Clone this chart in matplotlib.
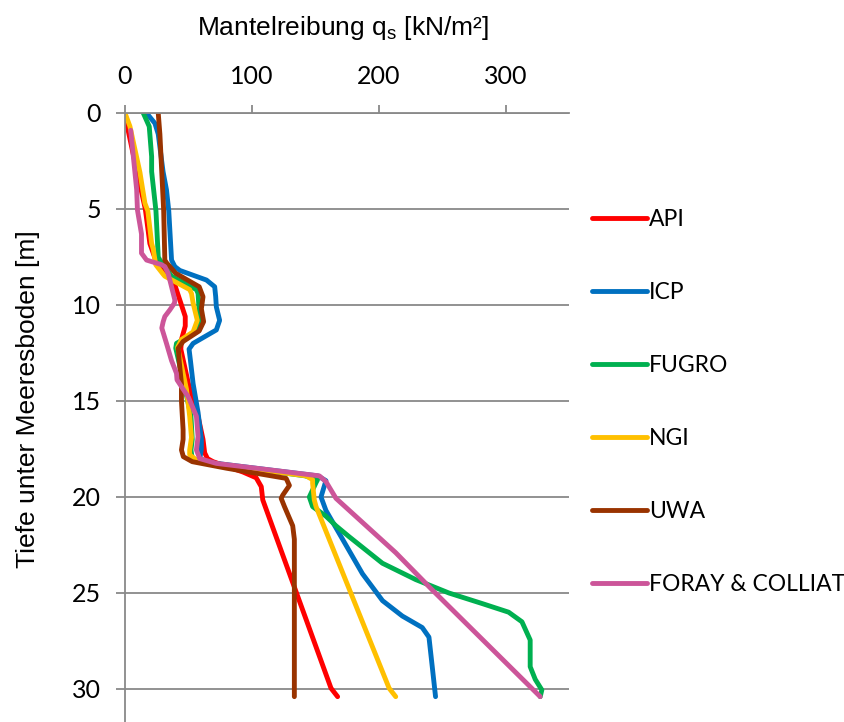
import matplotlib
matplotlib.use("Agg")
from matplotlib import pyplot as plt

plt.rcParams['mathtext.fontset'] = 'custom'
plt.rcParams['mathtext.rm'] = 'Liberation Sans'

# depth [m] and skin friction [kN/m2] for each method
api_depth = [0, 0.6, 2.0, 3.5, 5.0, 6.8, 7.8, 8.7, 9.74, 10.6, 11.1, 11.8, 12.3, 14.1, 15.8, 17.0,
             17.7, 18.0, 18.16, 18.7, 19.0, 19.46, 20.15, 29.96, 30.4]
api_q = [0, 1.5, 6, 11, 16, 19.6, 24.9, 38, 43.2, 47.5, 47.5, 44.5, 44, 50, 57.6, 61.5,
         62.8, 65, 69.4, 93, 103.4, 107.4, 108.6, 162.4, 167.6]

icp_depth = [0, 0.54, 1.1, 3.05, 4.0, 5.1, 7.66, 8.0, 8.2, 8.7, 9.05, 9.57, 10.1, 10.8, 11.3, 12.0,
             12.3, 12.9, 14.1, 15.6, 17.0, 17.5, 18.0, 18.2, 18.9, 19.15, 20.0, 20.7, 22.2, 24.0,
             25.4, 26.2, 26.8, 27.3, 28.84, 30.4]
icp_q = [17, 23.6, 26.2, 30, 32.7, 34.5, 36.7, 39.3, 43.2, 64.2, 70.7, 71.5, 72, 74.6, 72, 53.7,
         50.5, 51.6, 53.7, 57.6, 60.2, 60.2, 59, 66, 152, 158.4, 154.5, 158.4, 171.5, 187.2,
         203, 218.6, 234.3, 239.6, 242.2, 244.8]

fugro_depth = [0, 0.7, 2.27, 3.05, 5.1, 7.5, 7.66, 8.5, 9.2, 9.4, 10.26, 10.95, 11.4, 12.0, 12.25,
               14.1, 15.8, 17.0, 17.55, 18.0, 18.16, 18.9, 19.1, 19.25, 20.0, 20.5, 21.0, 21.5,
               22.07, 23.45, 24.3, 25.0, 25.55, 26.0, 26.5, 27.45, 28.84, 29.5, 30.05, 30.4]
fugro_q = [14.4, 19.1, 21, 21, 24.4, 26.2, 27.5, 36.7, 56.3, 57.6, 58.4, 58.9, 56.3, 40.6, 40,
           46.5, 52, 53, 52, 53, 60, 142, 151.8, 150.6, 145.3, 147.9, 158.4, 166.3,
           176.7, 202.9, 229.1, 255.3, 281.5, 302.4, 312.9, 319.4, 319.4, 323.4, 328.6, 327.3]

ngi_depth = [0, 0.7, 3.1, 3.6, 4.7, 5.1, 6.8, 7.1, 7.9, 8.4, 8.5, 9.2, 9.4, 9.9, 10.8, 11.4, 11.8,
             12.2, 14.4, 15.8, 16.9, 17.55, 17.8, 18.16, 18.9, 19.1, 19.3, 20.15, 20.5, 29.96, 30.4]
ngi_q = [0, 3.9, 11.8, 13, 15.7, 18, 21, 22.3, 24.2, 30.1, 31.4, 51, 52.4, 53.7, 57, 53.7, 44.5,
         41.5, 48.5, 51, 52.4, 51, 51, 58, 142.7, 147.9, 147.9, 149.2, 150.6, 208.2, 213.4]

uwa_depth = [0, 1.1, 5.1, 7.66, 7.8, 8.1, 8.35, 9.05, 9.57, 10.2, 10.87, 11.35, 11.9, 12.25, 12.9,
             14.1, 15.0, 16.5, 17.0, 17.55, 17.9, 18.16, 18.5, 19.03, 19.4, 19.9, 20.07, 20.5,
             21.5, 22.2, 30.4]
uwa_q = [26.2, 27.5, 30.5, 31.4, 32.7, 36.7, 40, 58.5, 61.5, 60.2, 62, 58.5, 45.8, 42, 42.7,
         44.5, 44.5, 45.8, 45.8, 44.5, 46, 53, 79.9, 127, 129.6, 124.4, 123.1, 125.7,
         132.2, 133.5, 133.5]

foray_depth = [0.9, 4.0, 5.05, 6.3, 7.3, 7.66, 7.9, 8.0, 8.35, 8.87, 9.74, 9.9, 10.26, 10.6, 10.87,
               11.2, 12.0, 12.9, 13.56, 13.9, 14.8, 15.8, 16.86, 17.55, 18.0, 18.25, 18.9, 19.2,
               20.07, 22.9, 24.84, 30.4]
foray_q = [4.5, 9.2, 9.8, 13, 13, 17, 28.8, 31.4, 34, 36, 39.3, 39, 35.3, 31.4, 30.1,
           29, 32.7, 36.7, 40.6, 41, 50, 56.3, 57.6, 56.3, 58.9, 72, 153.2, 158.4,
           166.3, 213.4, 242.2, 327.3]

names = ["API", "ICP", "FUGRO", "NGI", "UWA", "FORAY & COLLIAT"]
colors = ["#FF0000", "#0070C0", "#00B050", "#FFC000", "#993300", "#CC5599"]
depths = [api_depth, icp_depth, fugro_depth, ngi_depth, uwa_depth, foray_depth]
values = [api_q, icp_q, fugro_q, ngi_q, uwa_q, foray_q]

tick_font = "Lato"
grey = "#898989"

fig = plt.figure(figsize=(8.44, 7.22), dpi=100)
ax = fig.add_axes([125 / 844, 0.0, 444 / 844, 609 / 722])

for name, c, d, q in zip(names, colors, depths, values):
    ax.plot(q, d, color=c, lw=3.5, label=name, solid_joinstyle='round', solid_capstyle='round')

ax.set_xlim(0, 350)
ax.set_ylim(31.72, 0)
ax.set_xticks([0, 100, 200, 300])
ax.set_yticks([0, 5, 10, 15, 20, 25, 30])
ax.xaxis.tick_top()
ax.tick_params(axis='x', length=6, width=1.3, color=grey, pad=12, labelsize=18)
ax.tick_params(axis='y', length=6.5, width=1.3, color=grey, pad=11, labelsize=18)
for lab in ax.get_xticklabels() + ax.get_yticklabels():
    lab.set_fontfamily(tick_font)

ax.grid(axis='y', color=grey, lw=1.3)
ax.set_axisbelow(True)
for side in ['right', 'bottom']:
    ax.spines[side].set_visible(False)
for side in ['left', 'top']:
    ax.spines[side].set_color(grey)
    ax.spines[side].set_linewidth(1.3)

ax.xaxis.set_label_position('top')
ax.set_xlabel(r"Mantelreibung q$_\mathregular{s}$ [kN/m²]", fontsize=19, family="Liberation Sans")
ax.xaxis.set_label_coords(0.49, 1 + 85 / 609)
ax.xaxis.label.set_va('center')
ax.set_ylabel("Tiefe unter Meeresboden [m]", fontsize=19, family="Liberation Sans")
ax.yaxis.set_label_coords(-97 / 444, 0.53)
ax.yaxis.label.set_va('center')

fig.legend(loc='upper left', bbox_to_anchor=(576 / 844, 1 - 193 / 722), frameon=False,
           prop={'family': tick_font, 'size': 16.5}, handlelength=2.4, handletextpad=0.1,
           labelspacing=2.265, borderpad=0.2)

fig.savefig("out.png", dpi=100)
